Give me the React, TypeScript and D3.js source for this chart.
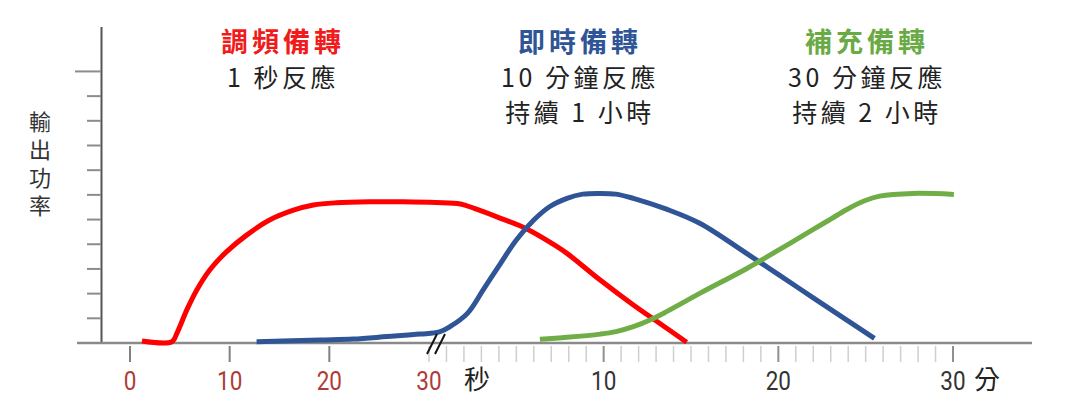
import React from 'react';
import * as d3 from 'd3';

const W = 1070;
const H = 397;

// time axis: 0–30 seconds, then a break, then 0–30 minutes (unit = 30 + minutes)
const secondTicks = [0, 10, 20, 30];
const minuteTicks = [10, 20, 30];
const powerTicks = [1, 2, 3, 4, 5, 6, 7, 8, 9, 10, 11];
const yLabel = '輸出功率';

// [time, power]
const regSeconds = [[1.2, 0.08], [4.2, 0.05], [4.7, 0.39], [5.7, 1.34], [6.7, 2.15], [8.0, 2.96], [9.7, 3.7], [11.7, 4.37], [14.0, 4.98], [16.4, 5.38], [18.4, 5.59], [20.7, 5.68], [24.1, 5.72], [27.4, 5.72]];
const regMinutes = [[0.4, 5.69], [1.8, 5.63], [2.6, 5.45], [4.1, 5.05], [5.6, 4.62], [7.0, 4.05], [7.9, 3.63], [9.8, 2.55], [11.7, 1.54], [13.2, 0.8], [14.75, 0.03]];

const spinSeconds = [[12.7, 0.05], [19.1, 0.12], [22.4, 0.16], [25.8, 0.26], [29.1, 0.36]];
const spinMinutes = [[0.6, 0.45], [1.2, 0.66], [2.2, 1.2], [3.1, 2.15], [4.1, 3.23], [5.0, 4.17], [6.0, 4.98], [6.9, 5.52], [7.9, 5.86], [8.8, 6.03], [9.8, 6.06], [10.7, 6.03], [11.7, 5.86], [13.6, 5.42], [15.5, 4.85], [18.2, 3.62], [20.1, 2.73], [22.0, 1.83], [23.9, 0.94], [25.5, 0.19]];

const supplMinutes = [[6.35, 0.15], [7.9, 0.23], [9.8, 0.36], [10.7, 0.46], [11.7, 0.66], [12.65, 0.93], [13.6, 1.27], [15.5, 2.01], [18.2, 3.02], [20.1, 3.8], [22.0, 4.6], [23.0, 5.02], [23.9, 5.4], [24.9, 5.75], [25.8, 5.95], [27.7, 6.06], [30.05, 6.02]];

const series = [
  { title: '調頻備轉', lines: ['1 秒反應'], color: '#f01b1b', stroke: '#ff0000', sec: regSeconds, min: regMinutes, cx: 281 },
  { title: '即時備轉', lines: ['10 分鐘反應', '持續 1 小時'], color: '#2f5597', stroke: '#2f5597', sec: spinSeconds, min: spinMinutes, cx: 578 },
  { title: '補充備轉', lines: ['30 分鐘反應', '持續 2 小時'], color: '#6aaa45', stroke: '#70ad47', sec: [], min: supplMinutes, cx: 865 },
];

const CJK = '"Noto Sans CJK TC", "Noto Sans", sans-serif';
const NUM = 'Roboto, "Liberation Sans", sans-serif';

export default function App() {
  const x = d3.scaleLinear().domain([0, 30, 60]).range([130, 429, 953]);
  const y = d3.scaleLinear().domain([0, 12.8]).range([343, 27]);
  const xMin = (m: number) => x(30 + m);

  const line = d3.line<number[]>()
    .x(d => x(d[0]))
    .y(d => y(d[1]))
    .curve(d3.curveCatmullRom.alpha(0.5));

  const minor = d3.range(1, 31).filter(m => m % 10 !== 0);
  const base = y(0);

  const num = (key: string, cx: number, label: number, fill: string) => (
    <text key={key} transform={`translate(${cx},390) scale(0.9,1)`} fontFamily={NUM} fontSize={25} fill={fill} textAnchor="middle">{label}</text>
  );

  return (
    <svg width={W} height={H} style={{ position: 'absolute', left: 0, top: 0, background: '#fff' }}>
      {/* y axis */}
      <line x1={101.5} x2={101.5} y1={27} y2={base} stroke="#555" strokeWidth={2} />
      {powerTicks.map(t => (
        <line key={t} x1={t === 11 ? 75 : 87} x2={101} y1={y(t)} y2={y(t)} stroke="#8c8c8c" strokeWidth={2} />
      ))}
      <text x={40} y={111} fontFamily={CJK} fontSize={22} fill="#333" letterSpacing={6} style={{ writingMode: 'vertical-rl' }}>{yLabel}</text>

      {/* x axis */}
      {minor.map(m => (
        <line key={m} x1={xMin(m)} x2={xMin(m)} y1={base + 3} y2={base + 19} stroke="#cfcfcf" strokeWidth={1.5} />
      ))}
      <line x1={x(30)} x2={x(30)} y1={base + 3} y2={base + 19} stroke="#cfcfcf" strokeWidth={1.5} />
      {secondTicks.filter(s => s < 30).map(s => (
        <line key={s} x1={x(s)} x2={x(s)} y1={base + 3} y2={base + 19} stroke="#808080" strokeWidth={2} />
      ))}
      {minuteTicks.map(m => (
        <line key={m} x1={xMin(m)} x2={xMin(m)} y1={base + 3} y2={base + 19} stroke="#909090" strokeWidth={2} />
      ))}
      <line x1={77} x2={1032} y1={base} y2={base} stroke="#8a8a8a" strokeWidth={2.5} />

      {secondTicks.map(s => num('s' + s, x(s), s, '#b03a36'))}
      <text x={477} y={389} fontFamily={CJK} fontSize={26} fill="#222" textAnchor="middle">秒</text>
      {minuteTicks.map(m => num('m' + m, xMin(m), m, '#333'))}
      <text x={987} y={389} fontFamily={CJK} fontSize={26} fill="#222" textAnchor="middle">分</text>

      {/* curves */}
      {series.map(s => {
        const pts = [...s.sec, ...s.min.map(d => [30 + d[0], d[1]])];
        return <path key={s.title} d={line(pts) || ''} fill="none" stroke={s.stroke} strokeWidth={5} />;
      })}

      {/* axis break */}
      <line x1={427} x2={437} y1={354} y2={334} stroke="#111" strokeWidth={2} />
      <line x1={435} x2={445} y1={354} y2={334} stroke="#111" strokeWidth={2} />

      {/* titles */}
      {series.map(s => (
        <g key={s.title} fontFamily={CJK} textAnchor="middle">
          <text x={s.cx + 2} y={52} fontSize={27} fontWeight="bold" fill={s.color} letterSpacing={4}>{s.title}</text>
          {s.lines.map((l, i) => (
            <text key={i} x={s.cx + 2} y={87 + i * 35} fontSize={25} fill="#222" letterSpacing={3.5}>{l}</text>
          ))}
        </g>
      ))}
    </svg>
  );
}
